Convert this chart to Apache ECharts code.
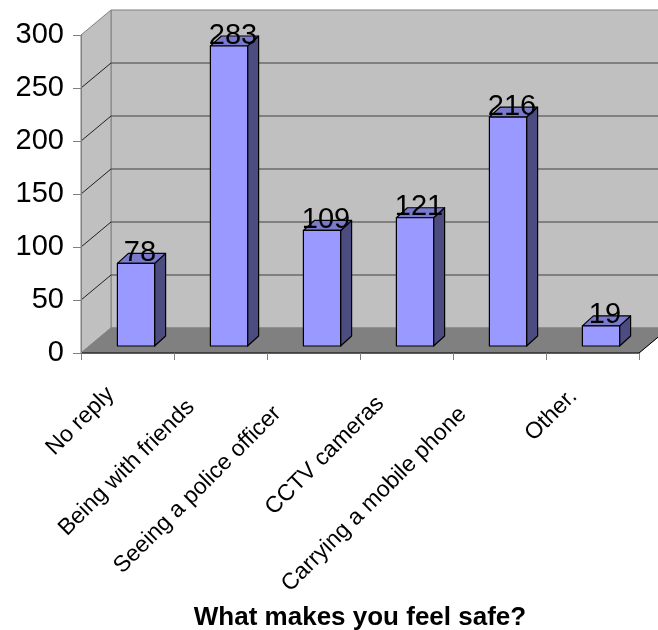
<!DOCTYPE html>
<html><head><meta charset="utf-8">
<script src="https://cdn.jsdelivr.net/npm/echarts@6/dist/echarts.min.js"></script>
<style>html,body{margin:0;padding:0;background:#fff}#c{width:658px;height:630px}</style>
</head><body><div id="c"></div>
<script>
// ---- data ----
const categories = ['No reply', 'Being with friends', 'Seeing a police officer', 'CCTV cameras', 'Carrying a mobile phone', 'Other.'];
const counts = [78, 283, 109, 121, 216, 19];
const yTickValues = [0, 50, 100, 150, 200, 250, 300];
const axisTitle = 'What makes you feel safe?';

// ---- styles ----
const FONT = '"Liberation Sans", Arial, sans-serif';
const DEPTH = [30, -25];
const BAR_SHIFT = [8.5, -7];
const BAR_DEPTH = [11, -10];
const labelPad = [24, 42, 51, 37, 52, 27];

const rich = {};
labelPad.forEach((p, i) => {
  rich['p' + i] = { padding: [0, p, 0, 0], fontSize: 23, fontFamily: FONT, color: '#000' };
});

const yMin = yTickValues[0], yMax = yTickValues[yTickValues.length - 1];

function renderScene(params, api) {
  const cs = params.coordSys;
  const gx = cs.x, gw = cs.width;
  const dx = DEPTH[0], dy = DEPTH[1];
  const y0 = api.coord([0, yMin])[1];
  const yT = api.coord([0, yMax])[1];
  const ch = [];
  ch.push({ type: 'polygon', shape: { points: [[gx + dx, yT + dy], [gx + gw + dx, yT + dy], [gx + gw + dx, y0 + dy], [gx + dx, y0 + dy]] },
    style: { fill: '#c0c0c0', stroke: '#808080', lineWidth: 1 } });
  ch.push({ type: 'polygon', shape: { points: [[gx, yT], [gx + dx, yT + dy], [gx + dx, y0 + dy], [gx, y0]] },
    style: { fill: '#c0c0c0', stroke: '#808080', lineWidth: 1 } });
  yTickValues.forEach(v => {
    if (v === yMin || v === yMax) return;
    const y = api.coord([0, v])[1];
    ch.push({ type: 'polyline', shape: { points: [[gx, y], [gx + dx, y + dy]] },
      style: { stroke: '#202020', lineWidth: 1, fill: null } });
    ch.push({ type: 'polyline', shape: { points: [[gx + dx, y + dy], [gx + gw + dx, y + dy]] },
      style: { stroke: '#404040', lineWidth: 1, fill: null } });
  });
  ch.push({ type: 'polygon', shape: { points: [[gx, y0], [gx + dx, y0 + dy], [gx + gw + dx, y0 + dy], [gx + gw, y0]] },
    style: { fill: '#808080', stroke: '#808080', lineWidth: 1 } });
  ch.push({ type: 'polyline', shape: { points: [[gx, y0], [gx + gw, y0], [gx + gw + dx, y0 + dy]] },
    style: { stroke: '#000', lineWidth: 1, fill: null } });
  return { type: 'group', children: ch };
}

function renderBar(params, api) {
  const i = api.value(0), v = api.value(1);
  const base = api.coord([i, 0]);
  const top = api.coord([i, v]);
  const bw = api.size([1, 0])[0] * 0.4;
  const x = base[0] - bw / 2 + BAR_SHIFT[0];
  const yb = base[1] + BAR_SHIFT[1];
  const yt = top[1] + BAR_SHIFT[1];
  const ddx = BAR_DEPTH[0], ddy = BAR_DEPTH[1];
  const edge = { stroke: '#000', lineWidth: 1.2, lineJoin: 'round' };
  return { type: 'group', children: [
    { type: 'polygon', shape: { points: [[x + bw, yt], [x + bw + ddx, yt + ddy], [x + bw + ddx, yb + ddy], [x + bw, yb]] },
      style: Object.assign({ fill: '#4c4c80' }, edge) },
    { type: 'polygon', shape: { points: [[x, yt], [x + ddx, yt + ddy], [x + bw + ddx, yt + ddy], [x + bw, yt]] },
      style: Object.assign({ fill: '#7a7acc' }, edge) },
    { type: 'rect', shape: { x: x, y: yt, width: bw, height: yb - yt },
      style: Object.assign({ fill: '#9999ff' }, edge) },
    { type: 'text', style: { text: String(v), x: x + bw / 2 + 4, y: yt - 10.5, align: 'center', verticalAlign: 'middle',
      fontSize: 29, fontFamily: FONT, fill: '#000' } }
  ] };
}

const chart = echarts.init(document.getElementById('c'), null, { renderer: 'canvas' });
chart.setOption({
  animation: false,
  backgroundColor: '#fff',
  grid: { left: 81, right: 19, top: 35, bottom: 277, containLabel: false, outerBoundsMode: 'none' },
  xAxis: {
    type: 'category', data: categories, z: 5,
    axisLine: { show: false },
    axisTick: { show: true, length: 7, lineStyle: { color: '#808080' } },
    axisLabel: { interval: 0, rotate: 45, margin: 21, fontSize: 23, fontFamily: FONT, color: '#000',
      formatter: (val, idx) => '{p' + idx + '|' + val + '}', rich: rich },
    name: axisTitle, nameLocation: 'middle', nameGap: 252, nameMoveOverlap: false,
    nameTextStyle: { fontSize: 26, fontWeight: 'bold', fontFamily: FONT, color: '#000' }
  },
  yAxis: {
    type: 'value', min: yMin, max: yMax, interval: 50, z: 5,
    axisLine: { show: true, lineStyle: { color: '#808080' } },
    axisTick: { show: true, length: 8, lineStyle: { color: '#808080' } },
    axisLabel: { margin: 17, fontSize: 29, fontFamily: FONT, color: '#000' },
    splitLine: { show: false }
  },
  series: [
    { type: 'custom', z: 1, silent: true, renderItem: renderScene, data: [[0, 0]], encode: { x: 0, y: 1 } },
    { type: 'custom', z: 6, renderItem: renderBar, data: categories.map((c, i) => [i, counts[i]]), encode: { x: 0, y: 1 } }
  ]
});
</script>
</body></html>
